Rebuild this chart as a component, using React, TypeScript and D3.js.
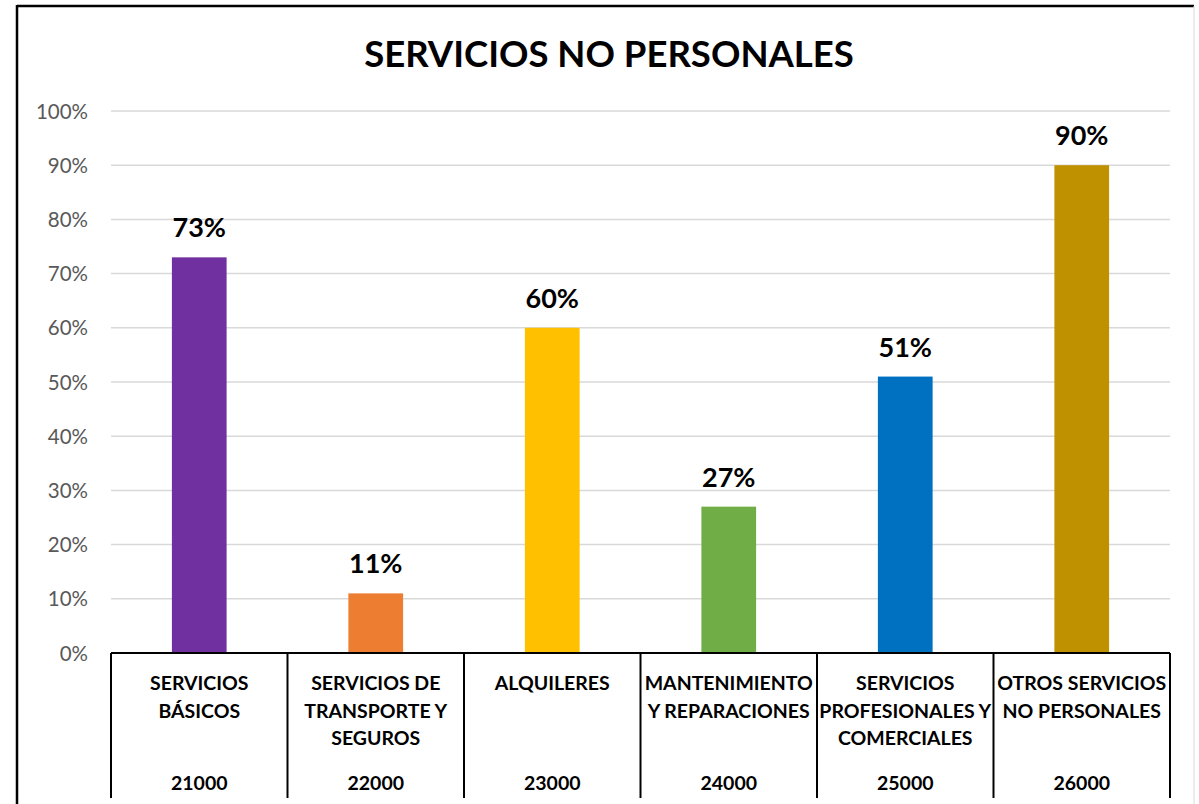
import React from "react";
import * as d3 from "d3";

const categories: string[][] = [
  ["SERVICIOS", "BÁSICOS"],
  ["SERVICIOS DE", "TRANSPORTE Y", "SEGUROS"],
  ["ALQUILERES"],
  ["MANTENIMIENTO", "Y REPARACIONES"],
  ["SERVICIOS", "PROFESIONALES Y", "COMERCIALES"],
  ["OTROS SERVICIOS", "NO PERSONALES"],
];
const codes = ["21000", "22000", "23000", "24000", "25000", "26000"];
const values = [0.73, 0.11, 0.6, 0.27, 0.51, 0.9];
const colors = ["#7030A0", "#ED7D31", "#FFC000", "#70AD47", "#0070C0", "#BF9000"];
const yTicks = [0, 0.1, 0.2, 0.3, 0.4, 0.5, 0.6, 0.7, 0.8, 0.9, 1.0];

const W = 1199;
const H = 804;
const FONT = "Lato, 'Open Sans', sans-serif";

export default function App() {
  const left = 111;
  const right = 1170;
  const top = 111;
  const bottom = 653;
  const x = d3.scaleBand<number>().domain(d3.range(values.length)).range([left, right]).paddingInner(0).paddingOuter(0);
  const y = d3.scaleLinear().domain([0, 1]).range([bottom, top]);
  const bw = x.bandwidth();
  const barW = bw * 0.31;
  const fmt = d3.format(".0%");

  return (
    <svg width={W} height={H} style={{ position: "absolute", left: 0, top: 0, display: "block" }} fontFamily={FONT}>
      <rect x={0} y={0} width={W} height={H} fill="#fff" />
      {/* outer border */}
      <line x1={17} y1={6} x2={1194} y2={6} stroke="#000" strokeWidth={2.5} />
      <line x1={17} y1={5} x2={17} y2={H} stroke="#000" strokeWidth={2.5} />
      <line x1={1194} y1={6} x2={1194} y2={H} stroke="#d9d9d9" strokeWidth={1} />

      <text x={609} y={67} textAnchor="middle" fontSize={36.5} fontWeight={700} fill="#000">
        SERVICIOS NO PERSONALES
      </text>

      {yTicks.map((t) => (
        <g key={t}>
          {t > 0 && <line x1={left} x2={right} y1={y(t)} y2={y(t)} stroke="#d9d9d9" strokeWidth={1.5} />}
          <text x={88} y={y(t) + 7.5} textAnchor="end" fontSize={20.5} fill="#595959">
            {fmt(t)}
          </text>
        </g>
      ))}

      {values.map((v, i) => {
        const cx = (x(i) as number) + bw / 2;
        return (
          <g key={i}>
            <rect x={cx - barW / 2} y={y(v)} width={barW} height={bottom - y(v)} fill={colors[i]} />
            <text x={cx} y={y(v) - 20} textAnchor="middle" fontSize={27} fontWeight={700} fill="#000">
              {fmt(v)}
            </text>
          </g>
        );
      })}

      {/* axis table */}
      <line x1={left} x2={right} y1={bottom} y2={bottom} stroke="#000" strokeWidth={2} />
      {d3.range(values.length + 1).map((i) => {
        const xx = i < values.length ? (x(i) as number) : right;
        return <line key={i} x1={xx} x2={xx} y1={bottom} y2={798} stroke="#000" strokeWidth={2} />;
      })}
      {categories.map((lines, i) => {
        const cx = (x(i) as number) + bw / 2;
        return (
          <g key={i}>
            {lines.map((ln, j) => (
              <text key={j} x={cx} y={690 + j * 27.5} textAnchor="middle" fontSize={19.5} fontWeight={700} fill="#000">
                {ln}
              </text>
            ))}
            <text x={cx} y={790} textAnchor="middle" fontSize={19.5} fontWeight={700} fill="#000">
              {codes[i]}
            </text>
          </g>
        );
      })}
    </svg>
  );
}
